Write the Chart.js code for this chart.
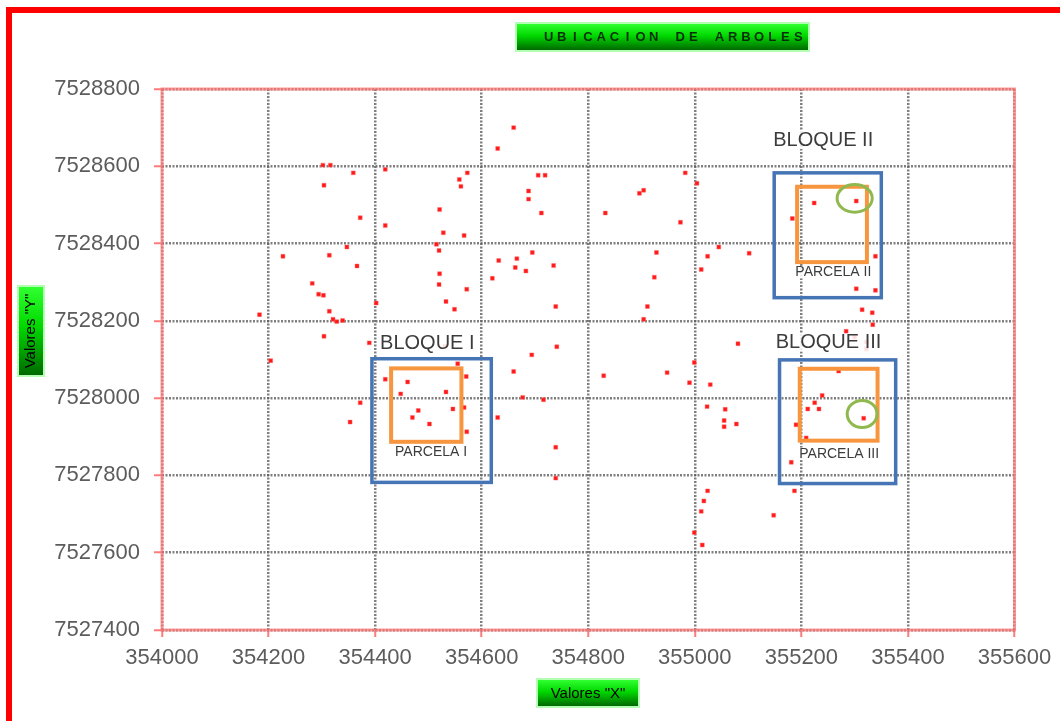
<!DOCTYPE html>
<html>
<head>
<meta charset="utf-8">
<script src="https://cdn.jsdelivr.net/npm/chart.js@4.4.0/dist/chart.umd.min.js"></script>
<style>
  html, body { margin: 0; padding: 0; background: #fff; }
</style>
</head>
<body>
<canvas id="chart" width="1060" height="721"></canvas>
<script>
// tree positions (map units)
var treeX = [354660, 354630, 354302, 354316, 354359, 354419, 354573, 354558, 354561, 354706,
  354719, 354688, 354688, 354712, 354304, 354372, 354419, 354521, 354528, 354567,
  354347, 354515, 354520, 354695, 354632, 354666, 354663, 354683, 354735, 354620,
  354227, 354314, 354366, 354521, 354520, 354572, 354282, 354294, 354303, 354402,
  354533, 354549, 354739, 354183, 354314, 354321, 354328, 354339, 354304, 354389,
  354531, 354741, 354694, 354204, 354660, 354571, 354555, 354419, 354461, 354448,
  354533, 354372, 354353, 354481, 354470, 354546, 354567, 354502, 354572, 354677,
  354716, 354630, 354739, 354739, 354982, 355004, 354904, 354896, 354832, 354973,
  354928, 355045, 355024, 355012, 355102, 354924, 354911, 354904, 355224, 355303,
  355183, 355339, 355303, 355339, 355314, 355333, 355334, 355284, 355300, 355322,
  355322, 355081, 354999, 354948, 354829, 355270, 354990, 355029, 355023, 355057,
  355055, 355055, 355078, 355239, 355225, 355233, 355212, 355190, 355209, 355317,
  355181, 355187, 355148, 355024, 355017, 355012, 354999, 355014];
var treeY = [7528700, 7528646, 7528603, 7528603, 7528583, 7528592, 7528583, 7528566, 7528548, 7528577,
  7528577, 7528536, 7528515, 7528479, 7528551, 7528467, 7528447, 7528488, 7528428, 7528421,
  7528391, 7528398, 7528382, 7528377, 7528356, 7528361, 7528338, 7528329, 7528343, 7528310,
  7528367, 7528370, 7528342, 7528322, 7528294, 7528282, 7528297, 7528269, 7528266, 7528246,
  7528250, 7528230, 7528237, 7528216, 7528225, 7528204, 7528198, 7528201, 7528160, 7528143,
  7528134, 7528133, 7528112, 7528097, 7528069, 7528056, 7528089, 7528049, 7528042, 7528011,
  7528016, 7527988, 7527938, 7527968, 7527950, 7527972, 7527976, 7527933, 7527913, 7528002,
  7527996, 7527950, 7527873, 7527793, 7528583, 7528556, 7528538, 7528530, 7528479, 7528455,
  7528377, 7528391, 7528367, 7528333, 7528375, 7528313, 7528237, 7528204, 7528505, 7528510,
  7528465, 7528367, 7528283, 7528279, 7528229, 7528221, 7528190, 7528173, 7528158, 7528145,
  7528128, 7528141, 7528092, 7528066, 7528058, 7528070, 7528040, 7528035, 7527978, 7527971,
  7527942, 7527926, 7527933, 7528007, 7527988, 7527972, 7527972, 7527931, 7527897, 7527948,
  7527834, 7527760, 7527697, 7527760, 7527734, 7527707, 7527652, 7527620];

var xTicks = [354000, 354200, 354400, 354600, 354800, 355000, 355200, 355400, 355600];
var yTicks = [7527400, 7527600, 7527800, 7528000, 7528200, 7528400, 7528600, 7528800];

var chartTitle = "UBICACION DE ARBOLES";
var xTitle = 'Valores "X"';
var yTitle = 'Valores "Y"';

// drawn shapes, in map units
var blockNames = ["BLOQUE I", "BLOQUE II", "BLOQUE III"];
var blockBoxes = [[354394, 354618, 7527782, 7528102], [355149, 355350, 7528260, 7528583], [355159, 355377, 7527779, 7528099]];
var blockLabelAt = [[354498, 7528141], [355241, 7528668], [355251, 7528144]];
var plotNames = ["PARCELA I", "PARCELA II", "PARCELA III"];
var plotBoxes = [[354430, 354562, 7527887, 7528077], [355192, 355323, 7528352, 7528547], [355197, 355343, 7527890, 7528076]];
var plotLabelAt = [[354505, 7527861], [355260, 7528326], [355271, 7527856]];
var circles = [[355300, 7528517, 33, 36], [355314, 7527959, 28, 35]];

function greenBox(ctx, x, y, w, h) {
  var g = ctx.createLinearGradient(0, y, 0, y + h);
  g.addColorStop(0, '#30ff30');
  g.addColorStop(0.45, '#00d800');
  g.addColorStop(1, '#006a00');
  ctx.fillStyle = 'rgba(150,255,150,0.7)';
  ctx.fillRect(x - 2, y - 2, w + 4, h + 4);
  ctx.fillStyle = g;
  ctx.fillRect(x, y, w, h);
}

var decor = {
  id: 'decor',
  beforeDraw: function (chart) {
    var ctx = chart.ctx;
    ctx.save();
    ctx.fillStyle = '#fff';
    ctx.fillRect(0, 0, chart.width, chart.height);
    ctx.fillStyle = '#ff0000';
    ctx.fillRect(6, 7, chart.width - 6, 6);
    ctx.fillRect(6, 7, 6, chart.height - 7);
    ctx.restore();
  },
  beforeDatasetsDraw: function (chart) {
    var ctx = chart.ctx, a = chart.chartArea;
    ctx.save();
    ctx.strokeStyle = 'rgba(255,120,120,0.75)';
    ctx.lineWidth = 3;
    ctx.strokeRect(a.left, a.top, a.right - a.left, a.bottom - a.top);
    ctx.restore();
  },
  afterDatasetsDraw: function (chart) {
    var ctx = chart.ctx, sx = chart.scales.x, sy = chart.scales.y;
    ctx.save();
    function box(b, color, w) {
      var x1 = sx.getPixelForValue(b[0]), x2 = sx.getPixelForValue(b[1]);
      var y1 = sy.getPixelForValue(b[3]), y2 = sy.getPixelForValue(b[2]);
      ctx.strokeStyle = color;
      ctx.lineWidth = w;
      ctx.strokeRect(x1, y1, x2 - x1, y2 - y1);
    }
    function label(txt, at, size) {
      var x = sx.getPixelForValue(at[0]), y = sy.getPixelForValue(at[1]);
      ctx.font = size + 'px "Liberation Sans", Arial, sans-serif';
      var w = ctx.measureText(txt).width;
      ctx.fillStyle = 'rgba(255,255,255,0.85)';
      ctx.fillRect(x - w / 2 - 1, y - size * 0.45, w + 2, size * 0.9);
      ctx.fillStyle = '#3c3c3c';
      ctx.textAlign = 'center';
      ctx.textBaseline = 'middle';
      ctx.fillText(txt, x, y);
    }
    blockBoxes.forEach(function (b) { box(b, '#4575b5', 3.5); });
    plotBoxes.forEach(function (b) { box(b, '#f7963f', 4); });
    circles.forEach(function (c) {
      var cx = sx.getPixelForValue(c[0]), cy = sy.getPixelForValue(c[1]);
      var rx = Math.abs(sx.getPixelForValue(c[0] + c[2]) - cx);
      var ry = Math.abs(sy.getPixelForValue(c[1] + c[3]) - cy);
      ctx.beginPath();
      ctx.ellipse(cx, cy, rx, ry, 0, 0, Math.PI * 2);
      ctx.strokeStyle = '#8fb84e';
      ctx.lineWidth = 3;
      ctx.stroke();
    });
    blockNames.forEach(function (n, i) { label(n, blockLabelAt[i], 20); });
    plotNames.forEach(function (n, i) { label(n, plotLabelAt[i], 14); });
    ctx.restore();
  },
  afterDraw: function (chart) {
    var ctx = chart.ctx;
    ctx.save();
    ctx.textBaseline = 'middle';
    ctx.textAlign = 'center';
    // chart title
    greenBox(ctx, 517, 24, 291, 26);
    ctx.font = 'bold 13px "Liberation Sans", Arial, sans-serif';
    ctx.fillStyle = '#062e06';
    var step = 263 / chartTitle.length;
    for (var i = 0; i < chartTitle.length; i++) {
      ctx.fillText(chartTitle[i], 542 + step * (i + 0.5), 37.5);
    }
    // x axis title
    greenBox(ctx, 538, 680, 100, 26);
    ctx.font = '15px "Liberation Sans", Arial, sans-serif';
    ctx.fillStyle = '#000';
    ctx.fillText(xTitle, 588, 693.5);
    // y axis title
    greenBox(ctx, 19, 287, 24, 88);
    ctx.fillStyle = '#000';
    ctx.translate(31, 331);
    ctx.rotate(-Math.PI / 2);
    ctx.fillText(yTitle, 0, 0);
    ctx.restore();
  }
};

var treePoints = treeX.map(function (x, i) { return {x: x, y: treeY[i]}; });

new Chart('chart', {
  type: 'scatter',
  data: {
    datasets: [{
      label: 'Arboles',
      data: treePoints,
      pointStyle: 'rect',
      pointRadius: 2.8,
      backgroundColor: '#ff1a1a',
      borderColor: 'rgba(255,110,110,0.45)',
      borderWidth: 1
    }]
  },
  options: {
    responsive: false,
    animation: false,
    layout: { padding: { left: 0, top: 89, right: 45.5, bottom: 0 } },
    plugins: {
      legend: { display: false },
      tooltip: { enabled: false },
      title: { display: false }
    },
    scales: {
      x: {
        type: 'linear',
        min: 354000,
        max: 355600,
        afterBuildTicks: function (s) { s.ticks = xTicks.map(function (v) { return {value: v}; }); },
        afterFit: function (s) { s.height = 91; },
        ticks: {
          padding: 8,
          color: '#5c5c5c',
          font: { family: '"Liberation Sans", Arial, sans-serif', size: 22 },
          maxRotation: 0,
          callback: function (v) { return String(v); }
        },
        grid: { color: 'rgba(95,95,95,0.8)', lineWidth: 2.5, tickColor: 'rgba(255,90,90,0.8)', tickWidth: 2, tickLength: 7 },
        border: { display: false, dash: [2, 1.5] }
      },
      y: {
        type: 'linear',
        min: 7527400,
        max: 7528800,
        afterBuildTicks: function (s) { s.ticks = yTicks.map(function (v) { return {value: v}; }); },
        afterFit: function (s) { s.width = 162; },
        ticks: {
          padding: 14,
          color: '#5c5c5c',
          font: { family: '"Liberation Sans", Arial, sans-serif', size: 22 },
          callback: function (v) { return String(v); }
        },
        grid: { color: 'rgba(95,95,95,0.8)', lineWidth: 2.5, tickColor: 'rgba(255,90,90,0.8)', tickWidth: 2, tickLength: 8 },
        border: { display: false, dash: [2, 1.5] }
      }
    }
  },
  plugins: [decor]
});
</script>
</body>
</html>
